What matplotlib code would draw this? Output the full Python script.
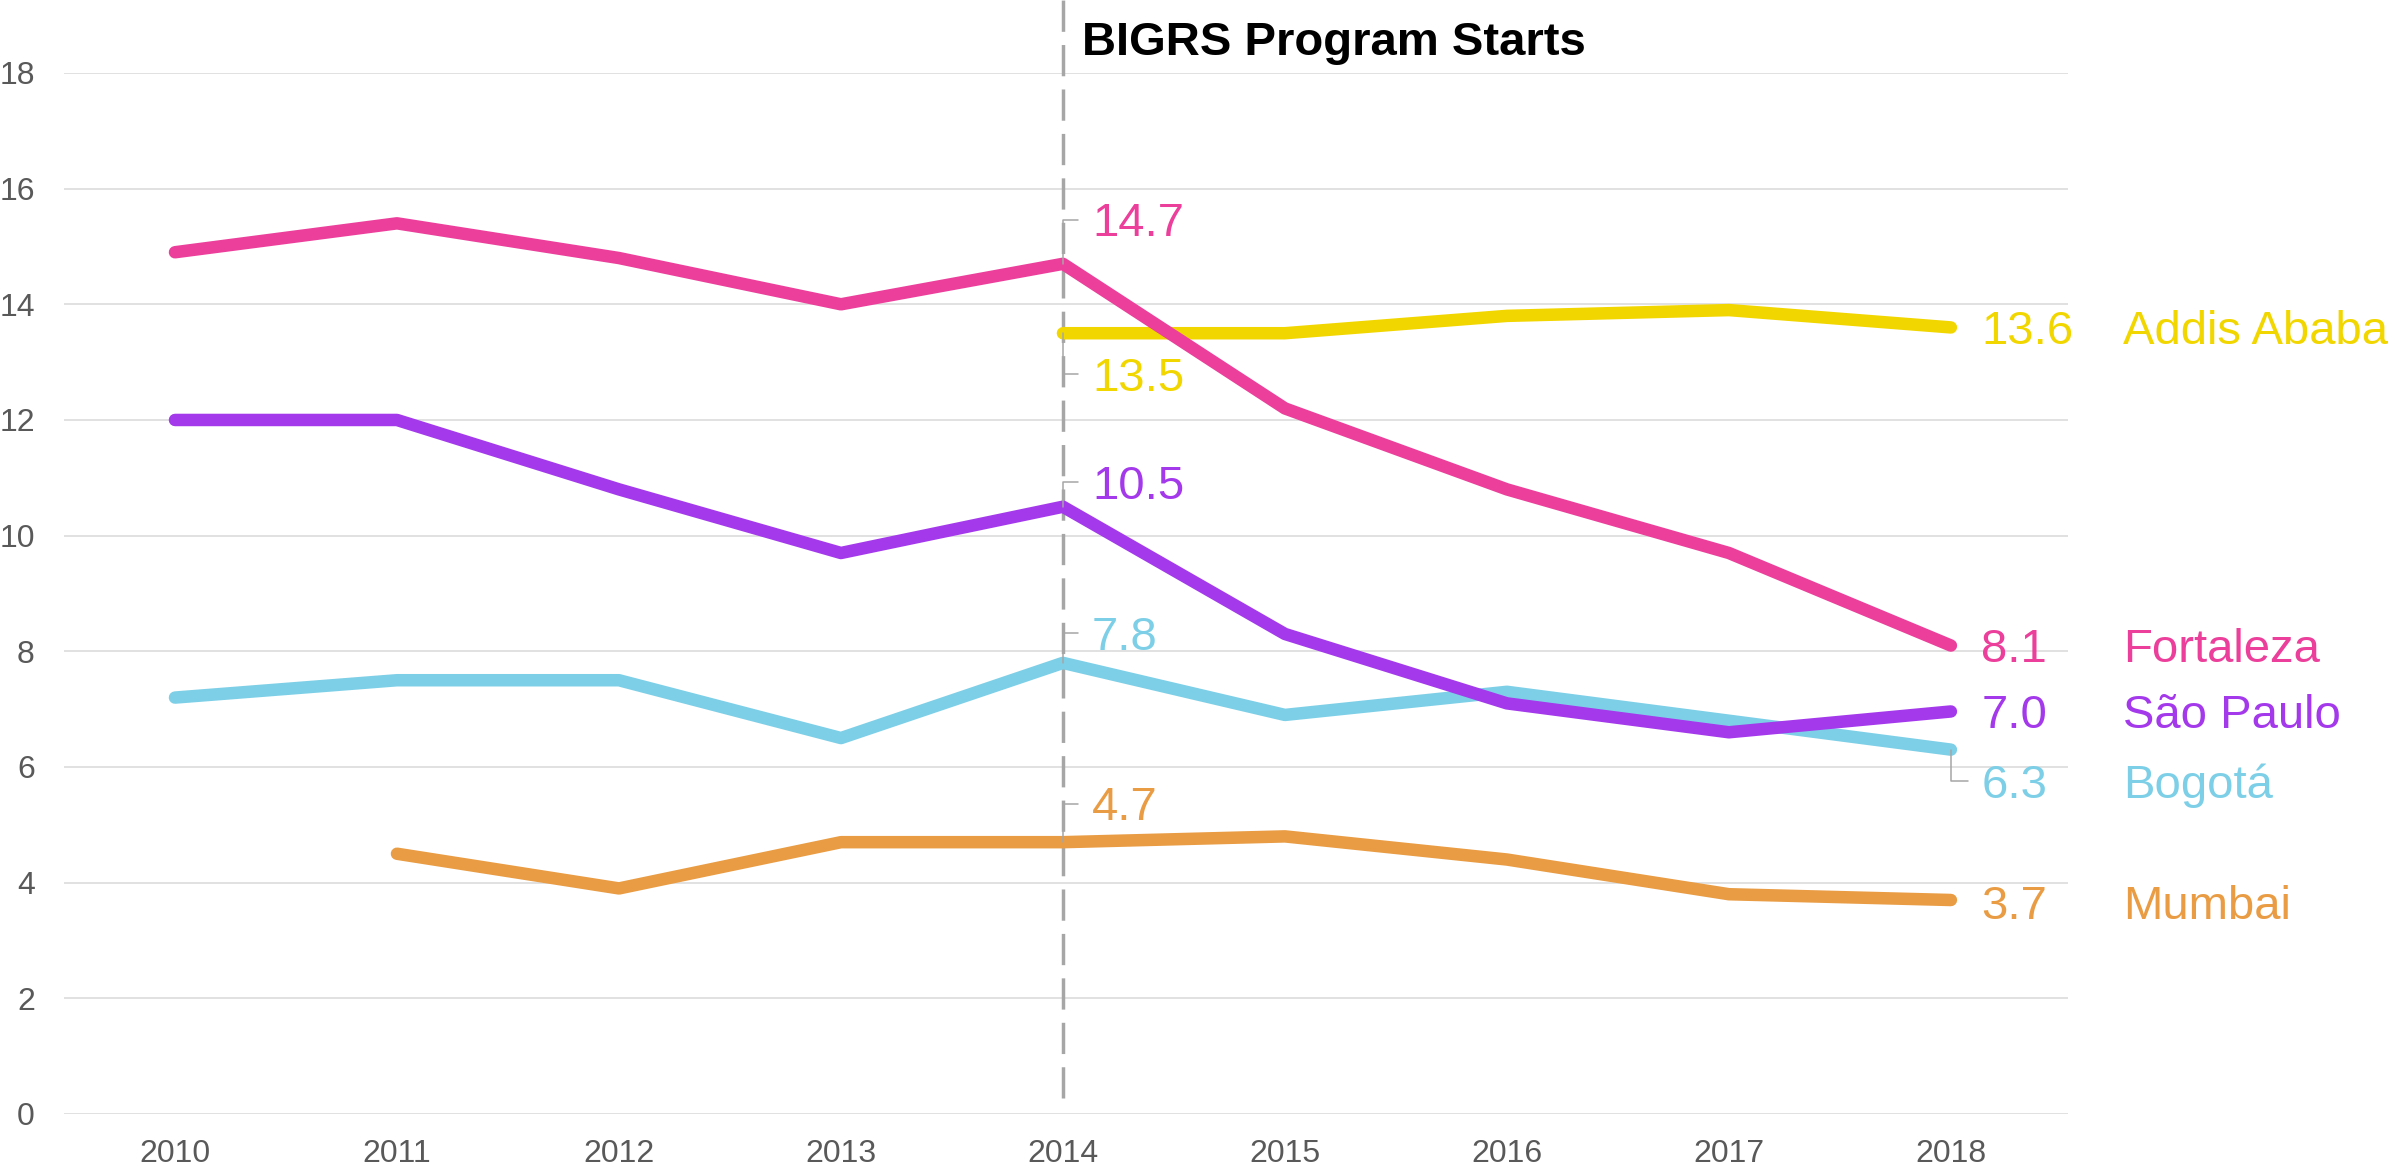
import numpy as np
import matplotlib.pyplot as plt

plt.rcParams['font.family'] = ['Liberation Sans', 'DejaVu Sans']

years = [2010, 2011, 2012, 2013, 2014, 2015, 2016, 2017, 2018]
fortaleza = [14.9, 15.4, 14.8, 14.0, 14.7, 12.2, 10.8, 9.7, 8.1]
addis_ababa = [np.nan, np.nan, np.nan, np.nan, 13.5, 13.5, 13.8, 13.9, 13.6]
sao_paulo = [12.0, 12.0, 10.8, 9.7, 10.5, 8.3, 7.1, 6.6, 6.96]
bogota = [7.2, 7.5, 7.5, 6.5, 7.8, 6.9, 7.3, 6.8, 6.3]
mumbai = [np.nan, 4.5, 3.9, 4.7, 4.7, 4.8, 4.4, 3.8, 3.7]

program_start = 2014

# drawing order: last one ends up on top
series = [
    ("Bogotá", bogota, "#7DCFE7"),
    ("Mumbai", mumbai, "#E99C43"),
    ("Addis Ababa", addis_ababa, "#F2D600"),
    ("São Paulo", sao_paulo, "#A339EB"),
    ("Fortaleza", fortaleza, "#EB3F9B"),
]

# label offsets in points (baseline relative to the data point)
start_dy = {"Fortaleza": 20, "Addis Ababa": -41.5, "São Paulo": 5.8, "Bogotá": 9.4, "Mumbai": 15.8}
end_dy = {"Fortaleza": -12.2, "Addis Ababa": -12.2, "São Paulo": -12.2, "Bogotá": -34.5, "Mumbai": -13.7}
end_leader = {"Bogotá"}

fig = plt.figure(figsize=(23.95, 11.73), dpi=100)
ax = fig.add_axes([0.02672, 0.0503, 0.8367, 0.8875])

ax.set_xlim(2009.5, 2018.527)
ax.set_ylim(0, 18)
ax.set_yticks(range(0, 19, 2))
ax.set_xticks(years)
ax.grid(axis='y', color='#D9D9D9', lw=1.1)
ax.set_axisbelow(True)
for s in ax.spines.values():
    s.set_visible(False)
ax.tick_params(length=0, labelsize=23, labelcolor='#595959')
ax.tick_params(axis='x', pad=18)
ax.tick_params(axis='y', pad=21)

leader = dict(arrowstyle='-', color='#A6A6A6', lw=1.1, shrinkA=8, shrinkB=0,
              relpos=(0, 0.6), connectionstyle='angle,angleA=0,angleB=90,rad=0')

i0 = years.index(program_start)
for name, vals, color in series:
    ax.plot(years, vals, color=color, lw=9, solid_capstyle='round',
            solid_joinstyle='round', zorder=3)

    # value at program start
    v = vals[i0]
    ax.annotate(f"{v:.1f}", xy=(years[i0], v), xytext=(21, start_dy[name]),
                textcoords='offset points', ha='left', va='baseline',
                fontsize=34, color=color, arrowprops=leader, zorder=4)

    # value and city name at the end
    v = vals[-1]
    ax.annotate(f"{v:.1f}", xy=(years[-1], v), xytext=(22, end_dy[name]),
                textcoords='offset points', ha='left', va='baseline',
                fontsize=34, color=color, annotation_clip=False,
                arrowprops=leader if name in end_leader else None, zorder=4)
    ax.annotate(name, xy=(years[-1], v), xytext=(124, end_dy[name]),
                textcoords='offset points', ha='left', va='baseline',
                fontsize=34, color=color, annotation_clip=False)

ax.axvline(program_start, ymin=0.015, ymax=1.07, clip_on=False, color='#A6A6A6',
           lw=2.5, linestyle=(0, (9, 3.8)), zorder=2)
ax.annotate("BIGRS Program Starts", xy=(program_start, 1), xycoords=('data', 'axes fraction'),
            xytext=(13.7, 13), textcoords='offset points', ha='left', va='baseline',
            fontsize=34, fontweight='bold', color='black', annotation_clip=False)

fig.savefig('out.png', dpi=100)
